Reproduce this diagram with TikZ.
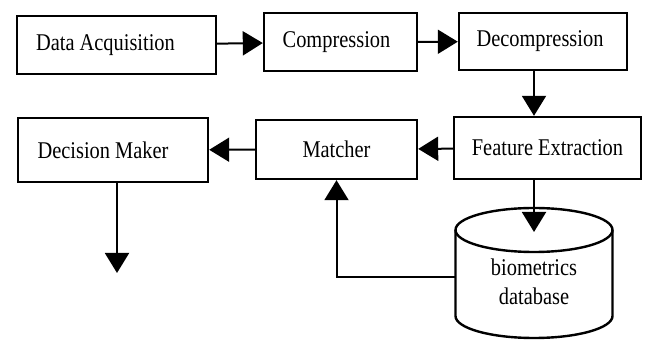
\documentclass[tikz,border=0pt]{standalone}
\usepackage{fontspec}
\setmainfont{Liberation Serif}[FakeStretch=0.85]
\usetikzlibrary{arrows.meta}

\begin{document}
\begin{tikzpicture}
[x=0.5pt,y=-0.5pt,
 stage/.style={rectangle,draw,line width=1.2pt,inner sep=0pt,font=\fontsize{12}{14}\selectfont},
 store/.style={align=center,inner sep=0pt,font=\fontsize{12}{14.5}\selectfont},
 drum/.style={line width=1.2pt},
 flow/.style={line width=1pt,-{Triangle[length=10pt,width=12pt]}},
 hv path/.style={to path={-| (\tikztotarget)}},
 vh path/.style={to path={|- (\tikztotarget)}}]
\useasboundingbox (0,0) rectangle (648,341);
\node[stage,minimum width=99.5pt,minimum height=29pt] (acq)    at (116.5,45)  {Data Acquisition\kern11pt};
\node[stage,minimum width=76.5pt,minimum height=29pt] (comp)   at (340.5,42)  {Compression\kern4pt};
\node[stage,minimum width=84pt,minimum height=28.5pt] (decomp) at (543,41.5)  {Decompression\kern3pt};
\node[stage,minimum width=93.5pt,minimum height=31pt] (feat)   at (547.5,148) {Feature Extraction};
\node[stage,minimum width=80.5pt,minimum height=29.5pt] (match) at (336.5,149.5) {Matcher};
\node[stage,minimum width=95pt,minimum height=32pt]   (dec)    at (113,150)   {Decision Maker\kern10pt};
% database drum
\draw[drum] (534,230) ellipse [x radius=39.25pt,y radius=11pt];
\draw[drum] (455.5,230) -- (455.5,316) arc [start angle=180,end angle=360,x radius=39.25pt,y radius=11pt] -- (612.5,230);
\node[store] (db) at (534,282) {biometrics\\database};
\coordinate (dbtop)  at (534,232);
\coordinate (dbleft) at (455.5,277);
\coordinate (out) at (117,273);
\path (acq)  edge[flow] (comp)
      (comp) edge[flow] (decomp)
      (decomp.south -| db) edge[flow] (feat.north -| db)
      (feat) edge[flow] (match)
      (match) edge[flow] (dec)
      (dec.south -| out) edge[flow] (out)
      (feat.south -| db) edge[flow] (dbtop)
      (dbleft) edge[flow,hv path] (match.south);
\end{tikzpicture}
\end{document}
